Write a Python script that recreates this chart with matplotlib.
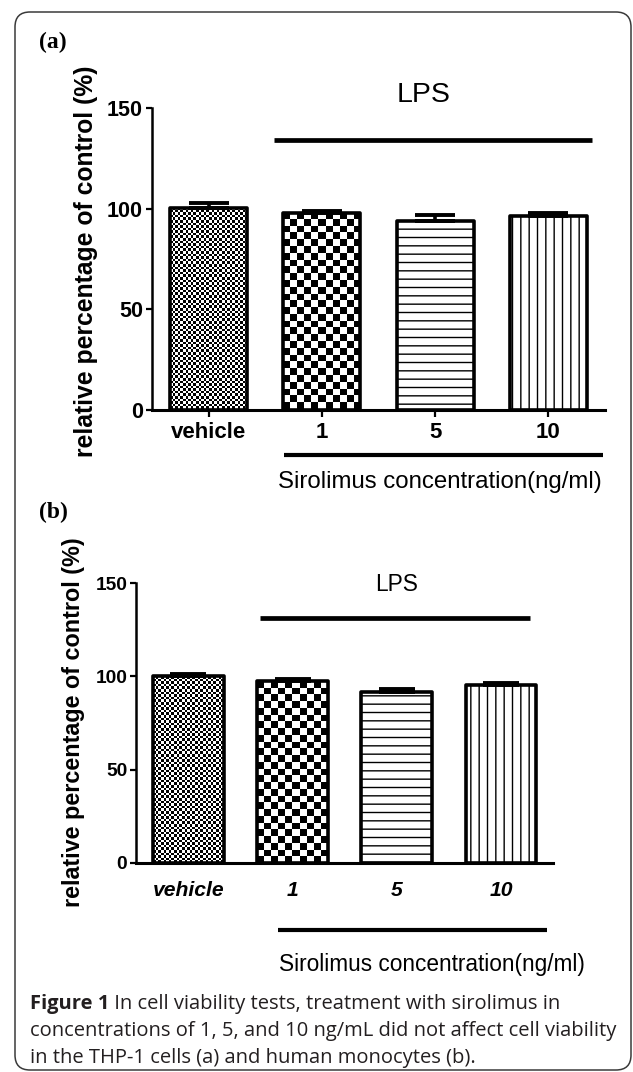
import numpy as np
import matplotlib
matplotlib.use("Agg")
import matplotlib.pyplot as plt
from matplotlib.patches import FancyBboxPatch

plt.rcParams['font.family'] = ['Liberation Sans', 'DejaVu Sans']

groups = ['vehicle', '1', '5', '10']
viab_a = [100.5, 97.7, 93.7, 96.4]
sem_a = [2.2, 1.3, 3.2, 1.6]
viab_b = [100.2, 97.3, 91.4, 95.6]
sem_b = [0.9, 1.2, 2.1, 1.1]
yticks = [0, 50, 100, 150]

fig = plt.figure(figsize=(6.33, 10.72), dpi=100)


def checker(ax, bar, cell):
    # checkerboard fill, clipped to the bar outline
    x0, y0 = bar.get_x(), bar.get_y()
    w, h = bar.get_width(), bar.get_height()
    (px0, py0), (px1, py1) = ax.transData.transform([(x0, y0), (x0 + w, y0 + h)])
    nx = max(1, int(round((px1 - px0) / cell)))
    ny = max(1, int(round((py1 - py0) / cell)))
    img = (np.add.outer(np.arange(ny), np.arange(nx)) % 2).astype(float)
    im = ax.imshow(img, cmap='gray', vmin=0, vmax=1, extent=(x0, x0 + w, y0, y0 + h),
                   origin='lower', interpolation='nearest', aspect='auto', zorder=2)
    im.set_clip_path(bar)


def panel(rect, vals, errs, capsize, italic, xtick_len, xpad, fs):
    ax = fig.add_axes(rect)
    x = np.arange(len(groups))
    ax.set_xlim(-0.5, 3.5)
    ax.set_ylim(0, 150)
    bars = ax.bar(x, vals, width=0.68, facecolor='none', edgecolor='black',
                  linewidth=2.6, zorder=3, joinstyle='round')
    checker(ax, bars[0], 2.6)
    checker(ax, bars[1], 6.8)
    bars[2].set_hatch('--')
    bars[3].set_hatch('||')
    ax.errorbar(x, vals, yerr=[np.zeros(len(vals)), errs], fmt='none', ecolor='black',
                elinewidth=2.6, capsize=capsize, capthick=2.8, zorder=4)
    ax.set_xlim(-0.5, 3.5)
    ax.set_ylim(0, 150)
    ax.set_yticks(yticks)
    ax.set_xticks(x, groups, fontweight='bold', fontstyle='italic' if italic else 'normal',
                  fontsize=fs['x'])
    for lab in ax.get_yticklabels():
        lab.set_fontweight('bold')
    ax.tick_params(axis='y', length=4.5, width=1.6, pad=2, labelsize=fs['y'])
    ax.tick_params(axis='x', length=xtick_len, width=1.6, pad=xpad)
    for s in ['top', 'right']:
        ax.spines[s].set_visible(False)
    ax.spines['left'].set_linewidth(1.8)
    ax.spines['bottom'].set_linewidth(2.2)
    return ax


# panel (a)
ax_a = panel([152 / 633, 1 - 409.5 / 1072, 453 / 633, 301.2 / 1072], viab_a, sem_a,
             14.4, False, 5, 4, {'x': 16, 'y': 15.5})
ax_a.plot([0.58, 3.385], [134.2, 134.2], color='black', lw=3.4, solid_capstyle='butt', clip_on=False)
ax_a.text(1.90, 156.6, 'LPS', fontsize=20.5, ha='center', va='center')
ax_a.plot([0.666, 3.48], [-22.7, -22.7], color='black', lw=3.0, solid_capstyle='butt', clip_on=False)
fig.text(440.3 / 633, 1 - 481.7 / 1072, 'Sirolimus concentration(ng/ml)', fontsize=17.3,
         ha='center', va='center')
fig.text(86 / 633, 1 - 261 / 1072, 'relative percentage of control (%)', fontsize=17.8,
         fontweight='bold', rotation=90, ha='center', va='center')
fig.text(53 / 633, 1 - 42.7 / 1072, '(a)', fontsize=17, fontweight='bold',
         family='Liberation Serif', ha='center', va='center')

# panel (b)
ax_b = panel([136.4 / 633, 1 - 862.7 / 1072, 416.6 / 633, 279.4 / 1072], viab_b, sem_b,
             13.2, True, 0, 13, {'x': 15.2, 'y': 13.8})
ax_b.plot([0.687, 3.28], [131.5, 131.5], color='black', lw=3.4, solid_capstyle='butt', clip_on=False)
ax_b.text(2.0, 149.6, 'LPS', fontsize=16.4, ha='center', va='center')
ax_b.plot([0.864, 3.44], [-36.1, -36.1], color='black', lw=3.0, solid_capstyle='butt', clip_on=False)
fig.text(432 / 633, 1 - 964 / 1072, 'Sirolimus concentration(ng/ml)', fontsize=16.3,
         ha='center', va='center')
fig.text(73.7 / 633, 1 - 722 / 1072, 'relative percentage of control (%)', fontsize=16.8,
         fontweight='bold', rotation=90, ha='center', va='center')
fig.text(53.6 / 633, 1 - 512 / 1072, '(b)', fontsize=17, fontweight='bold',
         family='Liberation Serif', ha='center', va='center')

# caption
cap_color = '#231f20'
cap_size = 14.5
cap_lines = ['In cell viability tests, treatment with sirolimus in',
             'concentrations of 1, 5, and 10 ng/mL did not affect cell viability',
             'in the THP-1 cells (a) and human monocytes (b).']
cap_base = [1009.3, 1036, 1062.7]
t = fig.text(30 / 633, 1 - cap_base[0] / 1072, 'Figure 1', fontsize=cap_size, fontweight='bold',
             family='Open Sans', color=cap_color, va='baseline')
ax_a.annotate(' ' + cap_lines[0], xy=(1, 0), xycoords=t, va='bottom', ha='left',
              fontsize=cap_size, family='Open Sans', color=cap_color, annotation_clip=False)
for line, yb in zip(cap_lines[1:], cap_base[1:]):
    fig.text(30 / 633, 1 - yb / 1072, line, fontsize=cap_size, family='Open Sans',
             color=cap_color, va='baseline')

frame = FancyBboxPatch((0.15, 0.02), 6.16, 10.58, boxstyle='round,pad=0,rounding_size=0.15',
                       transform=fig.dpi_scale_trans, fill=False, edgecolor='#3a3a3a', lw=1.1)
fig.add_artist(frame)

fig.savefig('out.png', dpi=100)
